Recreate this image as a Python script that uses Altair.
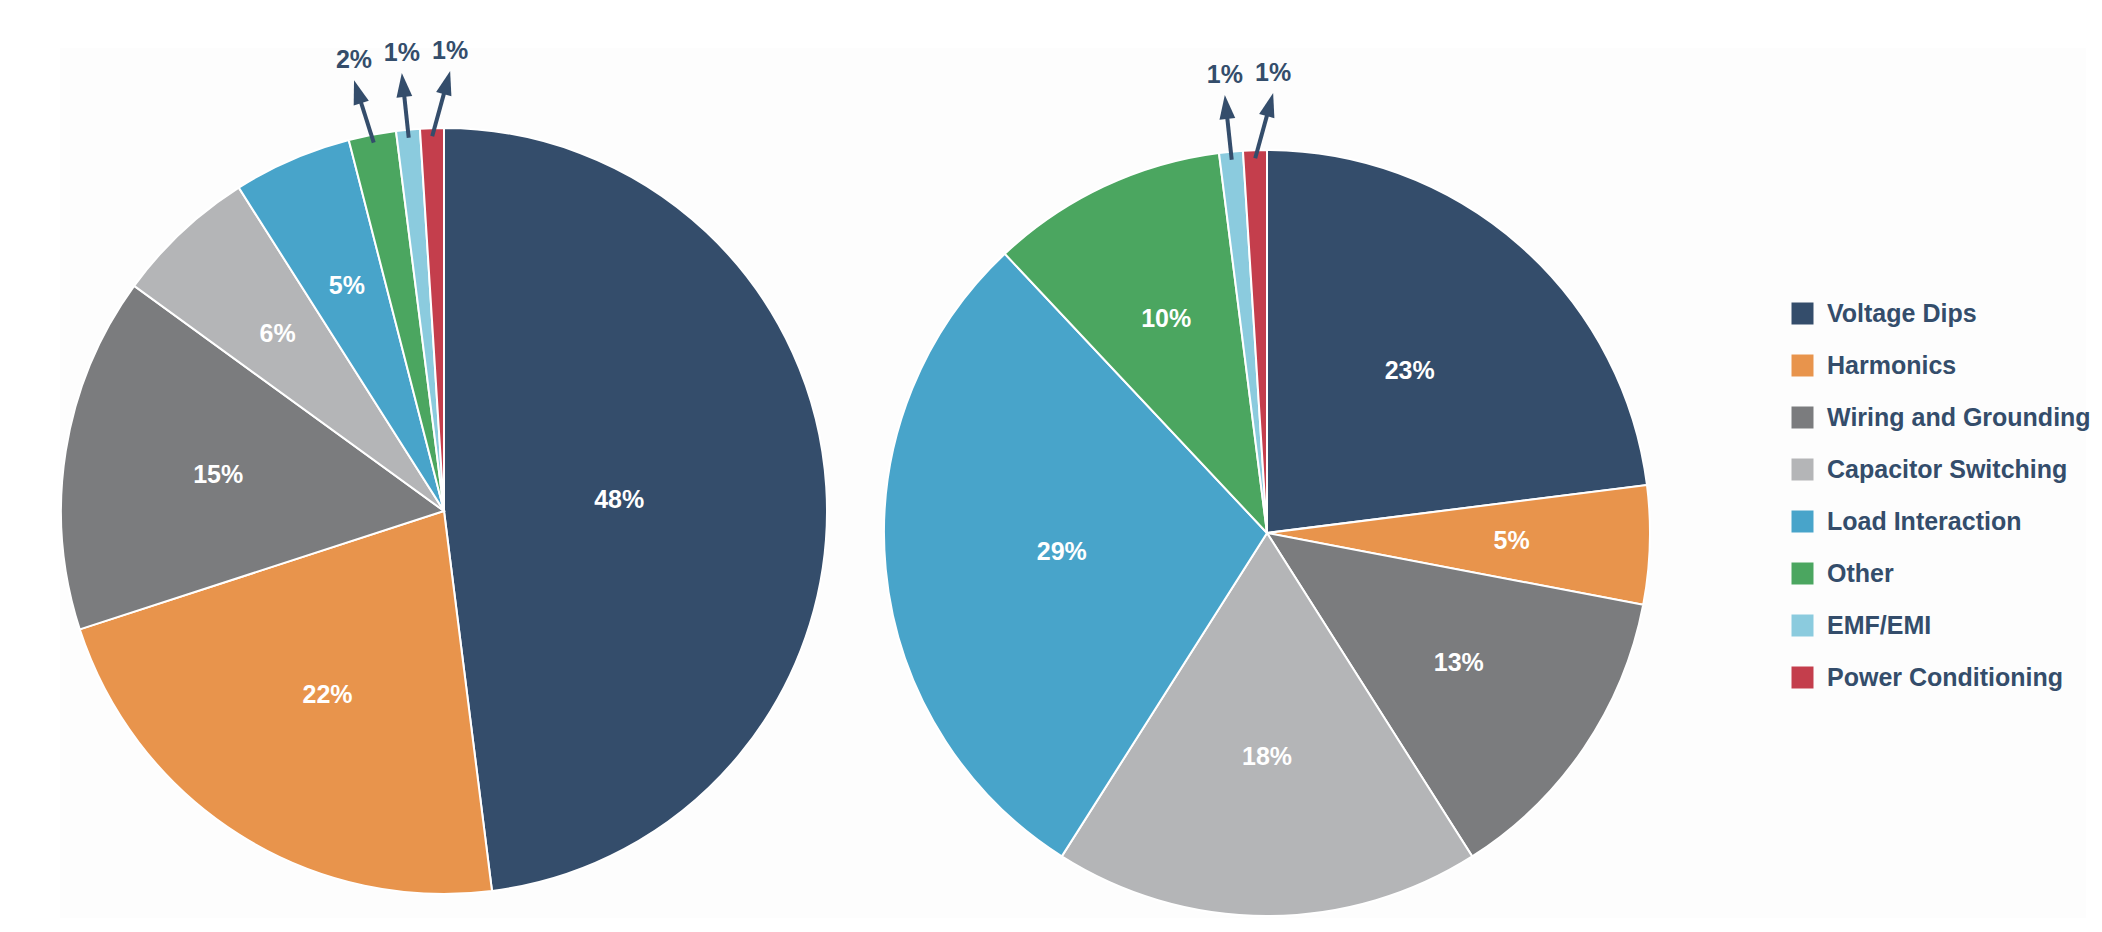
import altair as alt
import pandas as pd

# ---- data ----
categories = ["Voltage Dips", "Harmonics", "Wiring and Grounding", "Capacitor Switching",
              "Load Interaction", "Other", "EMF/EMI", "Power Conditioning"]
left_values = [48, 22, 15, 6, 5, 2, 1, 1]
right_values = [23, 5, 13, 18, 29, 10, 1, 1]
colors = ["#344D6B", "#E8944C", "#7B7C7E", "#B4B5B7", "#48A4CA", "#4BA660", "#8BCBDE", "#C43E4C"]

rows = []
for pie, vals in (("left", left_values), ("right", right_values)):
    for i, (c, v) in enumerate(zip(categories, vals)):
        rows.append({"pie": pie, "category": c, "value": v, "order": i})
df = pd.DataFrame(rows)

# ---- layout ----
W, H = 2102, 932
R = 383
NAVY = "#344D6B"
FONT = "Liberation Sans"

base = (
    alt.Chart(df)
    .transform_joinaggregate(total="sum(value)", groupby=["pie"])
    .transform_window(cum="sum(value)", groupby=["pie"],
                      sort=[alt.SortField("order")], frame=[None, 0])
    .transform_calculate(t1="datum.cum / datum.total * 2 * PI")
    .transform_calculate(t0="(datum.cum - datum.value) / datum.total * 2 * PI")
    .transform_calculate(tm="(datum.t0 + datum.t1) / 2")
    .transform_calculate(cx="datum.pie == 'left' ? 444 : 1267")
    .transform_calculate(cy="datum.pie == 'left' ? 511 : 533")
)

bg = alt.Chart(alt.Data(values=[{}])).mark_rect(color="#FDFDFD").encode(
    x=alt.value(60), x2=alt.value(2086), y=alt.value(48), y2=alt.value(918)
)

arcs = base.mark_arc(outerRadius=R, stroke="white", strokeWidth=2).encode(
    x=alt.X("cx:Q", scale=None),
    y=alt.Y("cy:Q", scale=None),
    theta=alt.Theta("t0:Q", scale=None, stack=None),
    theta2="t1:Q",
    color=alt.Color(
        "category:N",
        scale=alt.Scale(domain=categories, range=colors),
        legend=alt.Legend(
            title=None, orient="none", legendX=1790, legendY=301,
            symbolType="square", symbolSize=484, symbolStrokeWidth=0, symbolOpacity=1,
            labelFont=FONT, labelFontSize=25, labelFontWeight="bold", labelColor=NAVY,
            labelOffset=12, rowPadding=26, labelLimit=400,
        ),
    ),
)

inner = (
    base.transform_filter("datum.value >= 3")
    .transform_calculate(lr=f"{R} * (0.66 - 0.42 * datum.value / datum.total)")
    .transform_calculate(lx="datum.cx + datum.lr * sin(datum.tm)")
    .transform_calculate(ly="datum.cy - datum.lr * cos(datum.tm)")
    .transform_calculate(txt="datum.value + '%'")
    .mark_text(color="white", font=FONT, fontWeight="bold", fontSize=25,
               align="center", baseline="middle")
    .encode(x=alt.X("lx:Q", scale=None), y=alt.Y("ly:Q", scale=None), text="txt:N")
)

small = (
    base.transform_filter("datum.value < 3")
    .transform_window(k="rank()", groupby=["pie"],
                      sort=[alt.SortField("order", order="descending")])
    .transform_calculate(ta="2 * PI + (0.8 - 6.3 * (datum.k - 1)) * PI / 180")
    .transform_calculate(bx=f"datum.cx + {R - 8} * sin(datum.tm)")
    .transform_calculate(by=f"datum.cy - {R - 8} * cos(datum.tm)")
    .transform_calculate(tx=f"datum.cx + {R + 57} * sin(datum.ta)")
    .transform_calculate(ty=f"datum.cy - {R + 57} * cos(datum.ta)")
    .transform_calculate(dl="sqrt(pow(datum.tx - datum.bx, 2) + pow(datum.ty - datum.by, 2))")
    .transform_calculate(hx="datum.tx - 12 * (datum.tx - datum.bx) / datum.dl")
    .transform_calculate(hy="datum.ty - 12 * (datum.ty - datum.by) / datum.dl")
    .transform_calculate(ang="(atan2(datum.tx - datum.bx, datum.by - datum.ty) * 180 / PI + 360) % 360")
    .transform_calculate(lty="datum.ty - 7")
    .transform_calculate(txt="datum.value + '%'")
)

rules = small.mark_rule(color=NAVY, strokeWidth=4).encode(
    x=alt.X("bx:Q", scale=None), y=alt.Y("by:Q", scale=None),
    x2="hx:Q", y2="hy:Q",
)

heads = small.mark_point(shape="M0,-1L0.66,1L-0.66,1Z", filled=True, size=576,
                         color=NAVY, opacity=1, strokeWidth=0).encode(
    x=alt.X("hx:Q", scale=None), y=alt.Y("hy:Q", scale=None),
    angle=alt.Angle("ang:Q", scale=None),
)

small_labels = small.mark_text(color=NAVY, font=FONT, fontWeight="bold", fontSize=25,
                               align="center", baseline="bottom").encode(
    x=alt.X("tx:Q", scale=None), y=alt.Y("lty:Q", scale=None), text="txt:N",
)

chart = (
    alt.layer(bg, arcs, inner, rules, heads, small_labels)
    .properties(width=W, height=H, padding=0, autosize="none", background="white")
    .configure_view(stroke=None)
)

chart.save("out.html", embed_options={"renderer": "svg", "actions": False})
